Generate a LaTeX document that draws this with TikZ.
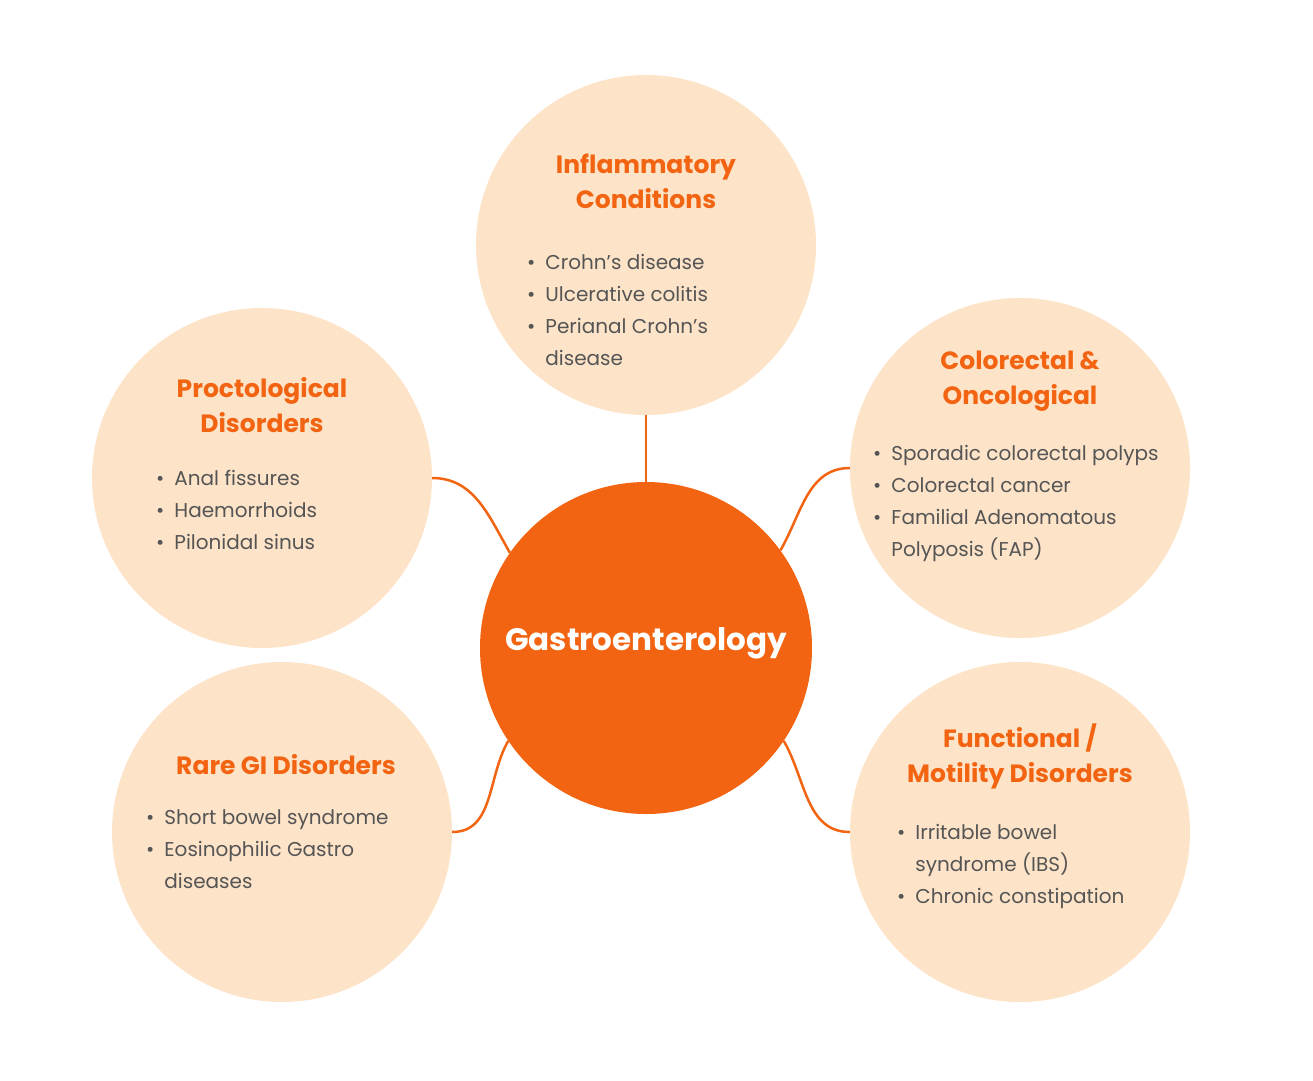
\documentclass[tikz,border=0pt]{standalone}
\usepackage{fontspec}
\setmainfont{Poppins}
\definecolor{org}{HTML}{F26411}
\definecolor{peach}{HTML}{FDE3C8}
\definecolor{txt}{HTML}{555555}
\tikzset{
 sub/.style={circle,fill=peach,minimum size=340pt,inner sep=0pt},
 hub/.style={circle,fill=org,minimum size=332pt,inner sep=0pt},
 head/.style={text=org,font=\fontsize{25}{35}\selectfont\bfseries,align=center},
 items/.style={text=txt,font=\fontsize{20}{32}\selectfont,anchor=north west,inner sep=0pt},
 link/.style={draw=org,line width=2.5pt}
}
\newcommand{\bl}[1]{\begin{tabular}{@{}l@{\hspace{10pt}}l@{}}#1\end{tabular}}
\begin{document}
\begin{tikzpicture}[x=1pt,y=-1pt]
\useasboundingbox (0,0) rectangle (1313,1080);
\node[hub] (c) at (646,648) {};
\node[text=white,font=\fontsize{31}{36}\selectfont\bfseries] (ct) at (646,643) {Gastroenterology};
\node[sub] (i) at (646,245) {};
\node[sub] (p) at (262,478) {};
\node[sub] (o) at (1020,468) {};
\node[sub] (r) at (282,832) {};
\node[sub] (f) at (1020,832) {};
\draw[link] (i.south) -- (c.north);
\draw[link] (p.east) to[out=0,in=120] (c.145);
\draw[link] (o.west) to[out=180,in=60] (c.36);
\draw[link] (r.east) to[out=0,in=-120] (c.-146);
\draw[link] (f.west) to[out=180,in=-60] (c.-34);
\node[head] (ih) at (646,181) {Inflammatory\\Conditions};
\node[items] (il) at (527,247) {\bl{•&Crohn’s disease\\•&Ulcerative colitis\\•&Perianal Crohn’s\\&disease}};
\node[head] (ph) at (262,405) {Proctological\\Disorders};
\node[items] (pl) at (156,463) {\bl{•&Anal fissures\\•&Haemorrhoids\\•&Pilonidal sinus}};
\node[head] (oh) at (1020,381) {Colorectal \&\\Oncological};
\node[items] (ol) at (873,438) {\bl{•&Sporadic colorectal polyps\\•&Colorectal cancer\\•&Familial Adenomatous\\&Polyposis (FAP)}};
\node[head] (rh) at (286,765) {Rare GI Disorders};
\node[items] (rl) at (146,802) {\bl{•&Short bowel syndrome\\•&Eosinophilic Gastro\\&diseases}};
\node[head] (fh) at (1020,756) {Functional /\\Motility Disorders};
\node[items] (fl) at (897,817) {\bl{•&Irritable bowel\\&syndrome (IBS)\\•&Chronic constipation}};
\end{tikzpicture}
\end{document}
